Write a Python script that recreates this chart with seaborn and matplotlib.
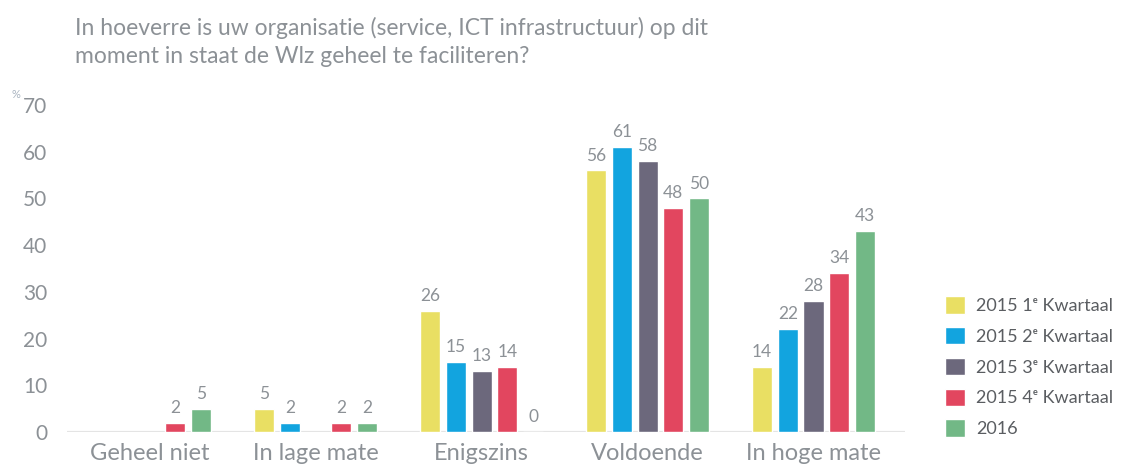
import numpy as np
import pandas as pd
import matplotlib
matplotlib.use("Agg")
import matplotlib.pyplot as plt
import seaborn as sns

categories = ["Geheel niet", "In lage mate", "Enigszins", "Voldoende", "In hoge mate"]
series = ["2015 1ᵉ Kwartaal", "2015 2ᵉ Kwartaal", "2015 3ᵉ Kwartaal",
          "2015 4ᵉ Kwartaal", "2016"]
# NaN = no bar / no label in the reference
q1_2015 = [np.nan, 5, 26, 56, 14]
q2_2015 = [np.nan, 2, 15, 61, 22]
q3_2015 = [np.nan, np.nan, 13, 58, 28]
q4_2015 = [2, 2, 14, 48, 34]
y_2016 = [5, 2, 0, 50, 43]
yticks = [0, 10, 20, 30, 40, 50, 60, 70]

COLORS = ["#e9df63", "#12a4df", "#6c687c", "#e2465f", "#72b886"]
GREY = "#8c9196"

sns.set_theme(style="white")
plt.rcParams["font.family"] = ["Lato", "DejaVu Sans"]

rows = []
for name, vals in zip(series, [q1_2015, q2_2015, q3_2015, q4_2015, y_2016]):
    for cat, v in zip(categories, vals):
        rows.append({"categorie": cat, "reeks": name, "pct": v})
df = pd.DataFrame(rows)

fig = plt.figure(figsize=(11.31, 4.67), dpi=100)
ax = fig.add_axes([0.059, 0.075, 0.80 - 0.059, 0.70])

sns.barplot(data=df.dropna(), x="categorie", y="pct", hue="reeks",
            order=categories, hue_order=series, palette=COLORS, saturation=1,
            width=0.775, gap=0.22, dodge=True, ax=ax, legend=True)

for cont in ax.containers:
    ax.bar_label(cont, labels=[f"{v:.0f}" for v in cont.datavalues],
                 padding=5, fontsize=12.5, color=GREY)

ax.set_ylim(0, 70)
ax.set_xlim(-0.5, 4.55)
ax.set_yticks(yticks)
ax.set_xlabel("")
ax.set_ylabel("")
ax.tick_params(axis="both", length=0, colors=GREY)
ax.tick_params(axis="y", labelsize=15, pad=14)
ax.tick_params(axis="x", labelsize=17, pad=8)
for s in ax.spines.values():
    s.set_visible(False)
ax.axhline(0, color="#e4e4e4", lw=1.6, zorder=0)

handles, labels = ax.get_legend_handles_labels()
ax.get_legend().remove()
fig.legend(handles, labels, loc="upper left", bbox_to_anchor=(0.828, 0.385),
           frameon=False, fontsize=13, handlelength=1.1, handleheight=1.1,
           handletextpad=0.6, labelspacing=0.72, labelcolor="#5a5d61",
           borderpad=0)

fig.text(75 / 1131, 1 - 17 / 467,
         "In hoeverre is uw organisatie (service, ICT infrastructuur) op dit\n"
         "moment in staat de Wlz geheel te faciliteren?",
         ha="left", va="top", fontsize=16.5, color=GREY, linespacing=1.4)
fig.text(12 / 1131, 1 - 95 / 467, "%", fontsize=8, color="#a9b4c0",
         ha="left", va="center")

fig.savefig("out.png", dpi=100)
